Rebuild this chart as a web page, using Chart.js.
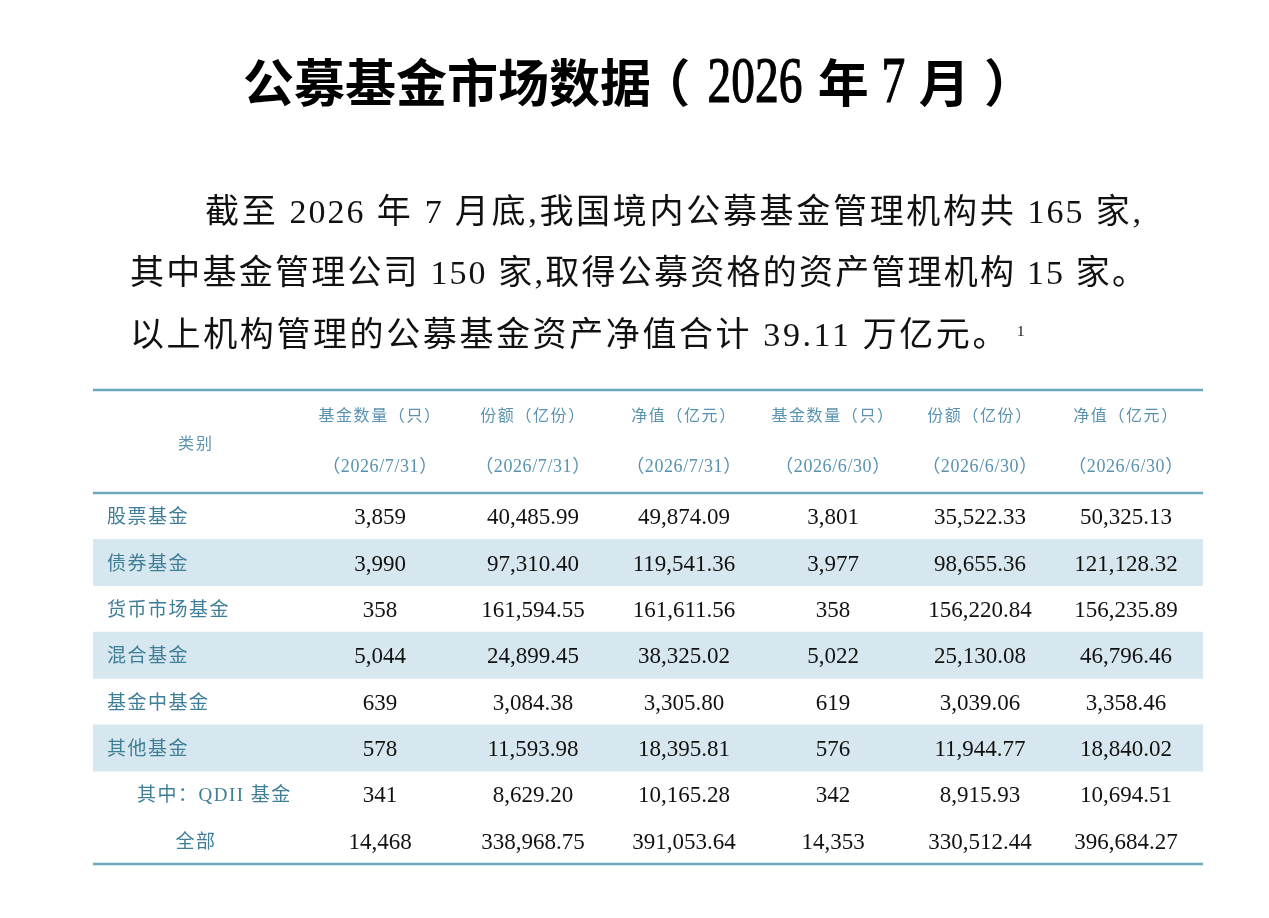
<!DOCTYPE html>
<html lang="zh-CN">
<head>
<meta charset="utf-8">
<title>公募基金市场数据（2026年7月）</title>
<script src="https://cdn.jsdelivr.net/npm/chart.js@4/dist/chart.umd.min.js"></script>
<style>
  html, body { margin:0; padding:0; background:#ffffff; }
  body { width:1269px; height:918px; position:relative; overflow:hidden; }
  #chart { position:absolute; left:0; top:0; }
  .txt { position:absolute; font-family:"Liberation Serif","Noto Sans CJK SC",serif; color:#111; white-space:nowrap; }
  #title { left:0; width:1278px; top:46px; text-align:center; font-size:51px; font-weight:bold; line-height:68px; color:#000; font-family:"Noto Sans CJK SC",sans-serif; }
  #title .num { display:inline-block; font-family:"Liberation Serif",serif; font-weight:normal; font-size:66px; transform:scale(0.72,1); margin:0 -15px; -webkit-text-stroke:1.2px #000; }
  #title .num1 { margin:0 -3px; }
  #title .gap { display:inline-block; width:14px; }
  #title .lp { margin-left:-12px; }
  .para { font-size:34px; line-height:40px; letter-spacing:2px; }
  .just { text-align:justify; text-align-last:justify; }
  #l1 { left:205px; top:192px; width:938px; }
  #l2 { left:130px; top:253px; width:1018px; }
  #l3 { left:130px; top:315px; letter-spacing:2.6px; }
  #l3 sup { font-size:15px; vertical-align:top; position:relative; top:-4px; margin-left:8px; letter-spacing:0; }
</style>
</head>
<body>
<canvas id="chart" width="1269" height="918"></canvas>
<div id="title" class="txt">公募基金市场数据<span class="lp">（</span><span class="gap"></span><span class="num">2026</span> 年 <span class="num num1">7</span> 月<span class="gap"></span>）</div>
<div id="l1" class="txt para just">截至 2026 年 7 月底,我国境内公募基金管理机构共 165 家,</div>
<div id="l2" class="txt para just">其中基金管理公司 150 家,取得公募资格的资产管理机构 15 家。</div>
<div id="l3" class="txt para">以上机构管理的公募基金资产净值合计 39.11 万亿元。<sup>1</sup></div>
<script>
// ---------- data ----------
const rowLabels = ['股票基金','债券基金','货币市场基金','混合基金','基金中基金','其他基金','其中：QDII 基金','全部'];
const headerCategory = '类别';
const headerTop = ['基金数量（只）','份额（亿份）','净值（亿元）','基金数量（只）','份额（亿份）','净值（亿元）'];
const headerBottom = ['（2026/7/31）','（2026/7/31）','（2026/7/31）','（2026/6/30）','（2026/6/30）','（2026/6/30）'];
const countJul = [3859, 3990, 358, 5044, 639, 578, 341, 14468];
const shareJul = [40485.99, 97310.40, 161594.55, 24899.45, 3084.38, 11593.98, 8629.20, 338968.75];
const navJul   = [49874.09, 119541.36, 161611.56, 38325.02, 3305.80, 18395.81, 10165.28, 391053.64];
const countJun = [3801, 3977, 358, 5022, 619, 576, 342, 14353];
const shareJun = [35522.33, 98655.36, 156220.84, 25130.08, 3039.06, 11944.77, 8915.93, 330512.44];
const navJun   = [50325.13, 121128.32, 156235.89, 46796.46, 3358.46, 18840.02, 10694.51, 396684.27];
const shadedRows = [false, true, false, true, false, true, false, false];

// ---------- layout (not data) ----------
const tableUnits = 1110;                       // x-scale width units
const colCenters = [103, 287, 440, 591, 740, 887, 1033]; // column centres in x-scale units
const labelLeft = 14, labelIndent = 44;        // label positions in x-scale units
const rowStyle = ['left','left','left','left','left','left','indent','center'];
const headerHeight = 103;
const lineColor = '#6aa8bb';
const shadeColor = '#d7e7ef';
const labelColor = '#3f7e98';
const headerColor = '#5892b0';

const columns = [countJul, shareJul, navJul, countJun, shareJun, navJun];
const isCount = [true, false, false, true, false, false];
const fmtInt = new Intl.NumberFormat('en-US', {maximumFractionDigits:0});
const fmtDec = new Intl.NumberFormat('en-US', {minimumFractionDigits:2, maximumFractionDigits:2});

const shadeData = shadedRows.map(s => s ? [0, tableUnits] : null);

function setSpacing(ctx, v) { if ('letterSpacing' in ctx) ctx.letterSpacing = v; }

const tablePlugin = {
  id: 'tableCells',
  afterDatasetsDraw(chart) {
    const ctx = chart.ctx;
    const xs = chart.scales.x, ys = chart.scales.y;
    const area = chart.chartArea;
    const top = area.top - headerHeight;
    ctx.save();
    // rules
    ctx.strokeStyle = lineColor;
    ctx.lineWidth = 2.5;
    [top, area.top, area.bottom].forEach(y => {
      ctx.beginPath();
      ctx.moveTo(area.left, y);
      ctx.lineTo(area.right, y);
      ctx.stroke();
    });
    // header
    ctx.textBaseline = 'middle';
    ctx.textAlign = 'center';
    ctx.fillStyle = headerColor;
    ctx.font = '16px "Noto Sans CJK SC"';
    setSpacing(ctx, '2px');
    ctx.fillText(headerCategory, xs.getPixelForValue(colCenters[0]), (top + area.top) / 2 + 1);
    for (let c = 0; c < headerTop.length; c++) {
      const x = xs.getPixelForValue(colCenters[c + 1]);
      ctx.font = '16px "Noto Sans CJK SC"';
      setSpacing(ctx, '1.6px');
      ctx.fillText(headerTop[c], x, top + 25);
      ctx.font = '18px "Liberation Serif", "Noto Sans CJK SC"';
      setSpacing(ctx, '0.6px');
      ctx.fillText(headerBottom[c], x, top + 77);
    }
    // rows
    for (let r = 0; r < rowLabels.length; r++) {
      const y = ys.getPixelForValue(r);
      ctx.fillStyle = labelColor;
      ctx.font = '19px "Liberation Serif", "Noto Sans CJK SC"';
      setSpacing(ctx, '1.5px');
      if (rowStyle[r] === 'center') {
        ctx.textAlign = 'center';
        ctx.fillText(rowLabels[r], xs.getPixelForValue(colCenters[0]), y + 2);
      } else {
        ctx.textAlign = 'left';
        ctx.fillText(rowLabels[r], xs.getPixelForValue(rowStyle[r] === 'indent' ? labelIndent : labelLeft), y + 2);
      }
      ctx.fillStyle = '#111111';
      ctx.textAlign = 'center';
      ctx.font = '23px "Liberation Serif"';
      setSpacing(ctx, '0px');
      for (let c = 0; c < columns.length; c++) {
        const v = columns[c][r];
        const s = isCount[c] ? fmtInt.format(v) : fmtDec.format(v);
        ctx.fillText(s, xs.getPixelForValue(colCenters[c + 1]), y + 2);
      }
    }
    ctx.restore();
  }
};

new Chart(document.getElementById('chart'), {
  type: 'bar',
  data: {
    labels: rowLabels,
    datasets: [{
      label: 'shade',
      data: shadeData,
      backgroundColor: shadeColor,
      borderWidth: 0,
      barPercentage: 1,
      categoryPercentage: 1
    }]
  },
  options: {
    indexAxis: 'y',
    responsive: false,
    animation: false,
    events: [],
    layout: { padding: { left: 93, right: 66, top: 493, bottom: 54 } },
    scales: {
      x: { type: 'linear', min: 0, max: tableUnits, display: false },
      y: { type: 'category', display: false, offset: true, grid: { display: false } }
    },
    plugins: { legend: { display: false }, tooltip: { enabled: false }, title: { display: false } }
  },
  plugins: [tablePlugin]
});
</script>
</body>
</html>
